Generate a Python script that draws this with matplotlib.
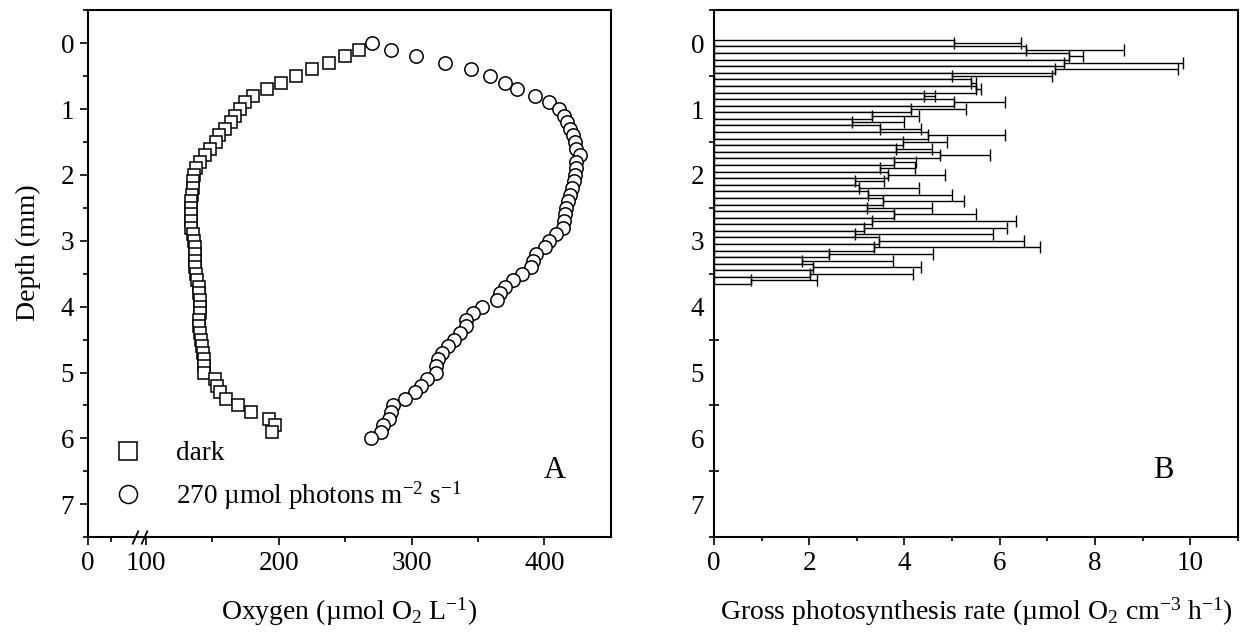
import numpy as np
import matplotlib
matplotlib.use("Agg")
import matplotlib.pyplot as plt
from matplotlib.ticker import FixedLocator, MultipleLocator
import matplotlib.transforms as mtransforms

plt.rcParams['font.family'] = ['Liberation Serif', 'DejaVu Serif']
plt.rcParams['mathtext.fontset'] = 'custom'
plt.rcParams['mathtext.rm'] = 'Liberation Serif'
plt.rcParams['mathtext.it'] = 'Liberation Serif:italic'
plt.rcParams['mathtext.bf'] = 'Liberation Serif:bold'

# ---------------- data: panel A (oxygen profiles) ----------------
depth_dark = [0.1, 0.2, 0.3, 0.4, 0.5, 0.6, 0.7, 0.8, 0.9, 1.0,
              1.1, 1.2, 1.3, 1.4, 1.5, 1.6, 1.7, 1.8, 1.9, 2.0,
              2.1, 2.2, 2.3, 2.4, 2.5, 2.6, 2.7, 2.8, 2.9, 3.0,
              3.1, 3.2, 3.3, 3.4, 3.5, 3.6, 3.7, 3.8, 3.9, 4.0,
              4.1, 4.2, 4.3, 4.4, 4.5, 4.6, 4.7, 4.8, 4.9, 5.0,
              5.1, 5.2, 5.3, 5.4, 5.5, 5.6, 5.7, 5.8, 5.9]
oxygen_dark = [260.8, 249.6, 237.7, 225.2, 213.4, 201.5, 191.4, 181.0, 174.8, 170.9,
               167.4, 163.8, 159.9, 154.9, 152.5, 148.1, 144.5, 140.7, 137.7, 136.2,
               135.6, 135.3, 134.7, 134.1, 134.1, 133.8, 133.8, 133.8, 135.6, 136.2,
               136.8, 136.8, 137.1, 137.1, 138.0, 138.6, 139.8, 140.1, 140.7, 140.7,
               140.7, 139.8, 139.8, 140.7, 141.5, 142.1, 142.7, 143.6, 143.9, 143.6,
               151.9, 153.4, 155.5, 160.0, 169.7, 179.2, 192.6, 197.6, 195.0]

depth_light = [0.0, 0.1, 0.2, 0.3, 0.4, 0.5, 0.6, 0.7, 0.8, 0.9, 1.0,
               1.1, 1.2, 1.3, 1.4, 1.5, 1.6, 1.7, 1.8, 1.9, 2.0,
               2.1, 2.2, 2.3, 2.4, 2.5, 2.6, 2.7, 2.8, 2.9, 3.0,
               3.1, 3.2, 3.3, 3.4, 3.5, 3.6, 3.7, 3.8, 3.9, 4.0,
               4.1, 4.2, 4.3, 4.4, 4.5, 4.6, 4.7, 4.8, 4.9, 5.0,
               5.1, 5.2, 5.3, 5.4, 5.5, 5.6, 5.7, 5.8, 5.9, 6.0]
oxygen_light = [270.6, 284.6, 303.0, 325.5, 344.8, 359.0, 370.6, 379.5, 392.9, 403.3, 410.7,
                414.5, 416.9, 419.0, 421.7, 423.1, 424.0, 426.4, 423.4, 423.4, 423.0,
                422.6, 421.0, 419.6, 417.5, 416.0, 415.7, 415.0, 413.6, 408.6, 403.3,
                400.3, 393.8, 391.4, 389.9, 383.4, 376.6, 370.0, 366.2, 364.1, 352.8,
                346.3, 341.0, 341.0, 336.5, 332.0, 327.6, 323.1, 319.6, 318.7, 318.7,
                311.3, 306.8, 302.4, 295.0, 286.0, 284.6, 283.0, 278.6, 277.2, 269.7]

label_dark = "dark"
label_light = r"270 µmol photons m$^{-2}$ s$^{-1}$"

# ---------------- data: panel B (gross photosynthesis) ----------------
depth_gp = [0.0, 0.1, 0.2, 0.3, 0.4, 0.5, 0.6, 0.7, 0.8, 0.9,
            1.0, 1.1, 1.2, 1.3, 1.4, 1.5, 1.6, 1.7, 1.8, 1.9,
            2.0, 2.1, 2.2, 2.3, 2.4, 2.5, 2.6, 2.7, 2.8, 2.9,
            3.0, 3.1, 3.2, 3.3, 3.4, 3.5, 3.6]
gp_rate = [5.05, 6.55, 7.45, 7.35, 7.15, 5.00, 5.40, 5.50, 4.40, 5.05,
           4.14, 3.32, 2.90, 3.49, 4.50, 3.97, 3.83, 4.75, 3.79, 3.49,
           3.66, 2.97, 3.04, 3.23, 3.55, 3.21, 3.79, 3.32, 3.15, 2.97,
           3.46, 3.37, 2.41, 1.85, 2.09, 2.01, 0.78]
gp_err = [1.40, 2.05, 0.30, 2.50, 2.60, 2.10, 0.10, 0.10, 0.25, 1.05,
          1.16, 0.99, 1.10, 0.86, 1.60, 0.93, 0.75, 1.05, 0.45, 0.74,
          1.19, 0.60, 1.26, 1.77, 1.70, 1.36, 1.71, 3.03, 3.00, 2.88,
          3.04, 3.48, 2.19, 1.92, 2.26, 2.17, 1.39]

depth_ticks = [0, 1, 2, 3, 4, 5, 6, 7]
oxy_ticks = [0, 100, 200, 300, 400]
gp_ticks = [0, 2, 4, 6, 8, 10]

# ---------------- figure ----------------
fig = plt.figure(figsize=(12.48, 6.38), dpi=100)
axA = fig.add_axes([0.0705, 0.158, 0.419, 0.826])
axB = fig.add_axes([0.572, 0.158, 0.42, 0.826])

TICK_FS = 19.5
LAB_FS = 20

# broken x axis for panel A: 0-100 compressed
K = 0.435
def fwd(x):
    x = np.asarray(x, dtype=float)
    return np.where(x < 100, x * K, 100 * K + (x - 100))
def inv(y):
    y = np.asarray(y, dtype=float)
    return np.where(y < 100 * K, y / K, y - 100 * K + 100)

axA.set_xscale('function', functions=(fwd, inv))
axA.plot(oxygen_dark, depth_dark, ls='none', marker='s', ms=9.2, mfc='white',
         mec='black', mew=1.1, label=label_dark, zorder=3)
axA.plot(oxygen_light, depth_light, ls='none', marker='o', ms=9.6, mfc='white',
         mec='black', mew=1.1, label=label_light, zorder=3)
axA.set_xlim(0, 450)
axA.set_ylim(7.5, -0.5)
axA.xaxis.set_major_locator(FixedLocator(oxy_ticks))
axA.xaxis.set_minor_locator(FixedLocator([40, 150, 250, 350]))
axA.yaxis.set_major_locator(FixedLocator(depth_ticks))
axA.yaxis.set_minor_locator(MultipleLocator(0.5))
axA.set_xticklabels([str(t) for t in oxy_ticks])
axA.tick_params(axis='both', which='major', direction='out', length=6, width=1.2,
                labelsize=TICK_FS, pad=4, top=False, right=False)
axA.tick_params(axis='both', which='minor', direction='out', length=3.5, width=1.2,
                top=False, right=False)
axA.set_xlabel(r"Oxygen (µmol O$_2$ L$^{-1}$)", fontsize=LAB_FS, labelpad=14)
axA.set_ylabel("Depth (mm)", fontsize=LAB_FS)
axA.yaxis.set_label_coords(-0.09, 0.54)
leg = axA.legend(loc='center left', bbox_to_anchor=(0.05, 0.115), frameon=False,
                 fontsize=TICK_FS, handlelength=1.0, handletextpad=1.3,
                 labelspacing=0.5, borderpad=0, borderaxespad=0, markerscale=1.35)
axA.text(0.893, 0.127, "A", transform=axA.transAxes, fontsize=22,
         ha='center', va='center')

# axis break marks "//" on the bottom spine
trans = mtransforms.blended_transform_factory(axA.transData, axA.transAxes)
slash = [(-0.45, -1.0), (0.45, 1.0)]
for xb in (82, 97):
    axA.plot([xb], [0.0], transform=trans, ls='none', marker=slash, ms=10,
             mec='black', mew=1.3, clip_on=False, zorder=5)

# ---------------- panel B ----------------
axB.barh(depth_gp, gp_rate, height=0.1, color='white', edgecolor='black', linewidth=1.0,
         xerr=[np.zeros(len(gp_err)), gp_err],
         error_kw=dict(ecolor='black', elinewidth=1.0, capsize=4.3, capthick=1.0),
         zorder=2)
axB.set_xlim(0, 11)
axB.set_ylim(7.5, -0.5)
axB.xaxis.set_major_locator(FixedLocator(gp_ticks))
axB.xaxis.set_minor_locator(MultipleLocator(1))
axB.yaxis.set_major_locator(FixedLocator(depth_ticks))
axB.yaxis.set_minor_locator(MultipleLocator(0.5))
axB.tick_params(axis='x', which='major', direction='out', length=6, width=1.2,
                labelsize=TICK_FS, pad=4, top=False)
axB.tick_params(axis='x', which='minor', direction='out', length=3, width=1.2, top=False)
axB.tick_params(axis='y', which='major', length=0, labelsize=TICK_FS, pad=7, right=False)
axB.tick_params(axis='y', which='minor', direction='inout', length=7, width=1.2, right=False)
axB.set_xlabel(r"Gross photosynthesis rate (µmol O$_2$ cm$^{-3}$ h$^{-1}$)",
               fontsize=LAB_FS, labelpad=14)
axB.text(0.857, 0.127, "B", transform=axB.transAxes, fontsize=22,
         ha='center', va='center')

for ax in (axA, axB):
    for s in ax.spines.values():
        s.set_linewidth(1.5)

fig.savefig("out.png", dpi=100)
